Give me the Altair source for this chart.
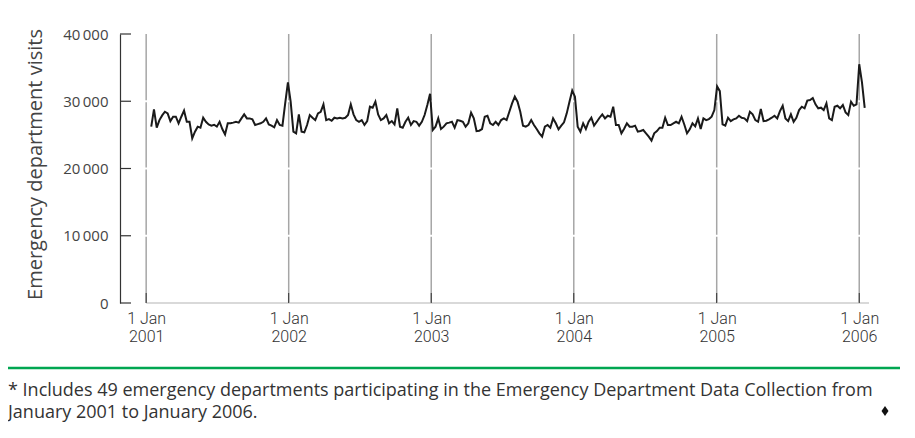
import altair as alt
import pandas as pd

# ---- data (weekly emergency department visits) ----
visits_2001 = [26220, 28800, 26070, 27200, 27900, 28440, 28200, 27050, 27700, 27700,
               26720, 27700, 28600, 26950, 26950, 24490, 25480, 26220, 26070, 27550,
               26950, 26550, 26370, 26500, 26220, 26950, 25870, 25080, 26720, 26720,
               26820, 26950, 26820, 27450, 28050, 27450, 27450, 27300, 26470, 26600,
               26720, 26950, 27450, 26550, 26370, 26120, 27200, 26470, 26370, 29690]
visits_2002 = [29940, 25480, 25230, 28050, 25480, 25380, 26470, 27950, 27550, 27200,
               28200, 28440, 29540, 27200, 27350, 27100, 27550, 27450, 27550, 27450,
               27550, 27950, 29540, 28050, 27200, 26950, 27200, 26470, 27050, 29190,
               29040, 29940, 28050, 27200, 27450, 27950, 26720, 27050, 26550, 28950,
               26220, 26070, 26950, 27550, 26470, 27050, 26950, 26370, 26950, 27950, 29440]
visits_2003 = [25720, 26220, 27450, 25870, 26220, 26720, 26820, 26950, 26070, 27200,
               27100, 26950, 26220, 26720, 28300, 27450, 25570, 25620, 25870, 27700,
               27850, 26720, 26470, 26950, 26470, 27200, 27450, 27200, 28440, 29690,
               30680, 29940, 28440, 26370, 26220, 26470, 27200, 26470, 25870, 25230,
               24730, 26220, 26470, 26070, 27450, 26720, 25820, 26370, 26870, 28200, 29940]
visits_2004 = [30680, 26220, 25480, 26720, 25870, 26950, 27550, 26370, 26950, 27550,
               28050, 27450, 27850, 27700, 29190, 26470, 26470, 25230, 25920, 26720,
               26220, 26220, 26370, 25480, 25570, 25720, 25230, 24730, 24140, 25230,
               25570, 26070, 26070, 27550, 26470, 26470, 26720, 26950, 26720, 27700,
               26550, 25230, 25820, 26720, 26270, 27450, 25870, 27450, 27200, 27350,
               27700, 28690]
visits_2005 = [31500, 26570, 26370, 27550, 27050, 27300, 27450, 27850, 27550, 27450,
               27050, 28440, 28050, 27200, 26950, 28870, 27050, 27100, 27300, 27550,
               27850, 27450, 28540, 29340, 27450, 27050, 28050, 26950, 27550, 28690,
               29190, 28950, 30090, 30190, 30480, 29540, 28950, 29040, 28690, 29690,
               27450, 27200, 29190, 29340, 28950, 29440, 28340, 27950, 29940, 29340, 29540]
new_year_peaks = [32800, 31100, 31600, 32200, 35500]
visits_2006 = [32800, 29000]

first_week = "2001-01-14"
years = [2001, 2002, 2003, 2004, 2005, 2006]
y_ticks = [0, 10000, 20000, 30000, 40000]
y_title = "Emergency department visits"
footnote_lines = [
    "* Includes 49 emergency departments participating in the Emergency Department Data Collection from",
    "January 2001 to January 2006.",
]

# ---- build table ----
values = (visits_2001 + [new_year_peaks[0]] + visits_2002 + [new_year_peaks[1]]
          + visits_2003 + [new_year_peaks[2]] + visits_2004 + [new_year_peaks[3]]
          + visits_2005 + [new_year_peaks[4]] + visits_2006)
dates = pd.date_range(first_week, periods=len(values), freq="7D")
df = pd.DataFrame({"week": dates.strftime("%Y-%m-%d"), "visits": values})
years_df = pd.DataFrame({"d": [f"{y}-01-01" for y in years]})
grid_y_df = pd.DataFrame({"v": y_ticks[1:4]})
ticks_y_df = pd.DataFrame({"v": y_ticks})
base_df = pd.DataFrame({"start": ["2001-01-01"], "end": ["2006-01-26"]})

W, H = 749, 269
XFONT = "Roboto, Liberation Sans, sans-serif"
SANS = "Open Sans, Lato, sans-serif"

xscale = alt.Scale(type="utc", domain=[alt.DateTime(year=2000, month=10, date=26, utc=True),
                                       alt.DateTime(year=2006, month=1, date=26, utc=True)])
yscale = alt.Scale(domain=[0, 40000], nice=False)

x_axis = alt.Axis(
    values=[alt.DateTime(year=y, month=1, date=1, utc=True) for y in years],
    labelExpr="['1 Jan', utcFormat(datum.value, '%Y')]",
    domain=False, ticks=False, tickSize=0, grid=False, title=None,
    labelFlush=False, labelOverlap=False, labelBound=False,
    labelPadding=7, labelFont=XFONT, labelFontSize=16, labelFontWeight=300,
    labelLineHeight=18, labelColor="#333333", labelAlign="center")
y_axis = alt.Axis(
    values=y_ticks,
    labelExpr="replace(format(datum.value, ','), ',', '\u2009')",
    domain=True, domainColor="#333333", domainWidth=1.2,
    ticks=False, tickSize=0, grid=False,
    labelPadding=12, labelFont=SANS, labelFontSize=15, labelColor="#444444",
    title=y_title, titleFont=SANS, titleFontSize=20, titleFontWeight="normal",
    titleColor="#444444", titleX=-85, titleY=130, titleAngle=270,
    titleAlign="center", titleBaseline="middle")

grid_v = alt.Chart(years_df).mark_rule(color="#a6a6a6", strokeWidth=1.5).encode(
    x=alt.X("d:T", scale=xscale, axis=x_axis))

grid_white = alt.Chart(grid_y_df).mark_rule(color="white", strokeWidth=2).encode(
    y=alt.Y("v:Q", scale=yscale, axis=y_axis), x=alt.value(14), x2=alt.value(W))

baseline = alt.Chart(base_df).mark_rule(color="#cccccc", strokeWidth=1.5).encode(
    x=alt.X("start:T", scale=xscale, axis=x_axis), x2="end:T", y=alt.value(H))

year_ticks = alt.Chart(years_df).mark_rule(color="#333333", strokeWidth=1).encode(
    x=alt.X("d:T", scale=xscale, axis=x_axis), y=alt.value(H - 10), y2=alt.value(H))

bracket = alt.Chart(ticks_y_df).mark_rule(color="#333333", strokeWidth=1.2).encode(
    y=alt.Y("v:Q", scale=yscale, axis=y_axis), x=alt.value(0), x2=alt.value(11))

line = alt.Chart(df).mark_line(color="#1a1a1a", strokeWidth=2).encode(
    x=alt.X("week:T", scale=xscale, axis=x_axis),
    y=alt.Y("visits:Q", scale=yscale, axis=y_axis),
)

rule_green = alt.Chart(base_df).mark_rule(color="#00a651", strokeWidth=2.5).encode(
    x=alt.value(-112), x2=alt.value(780), y=alt.value(334))

foot1 = alt.Chart(alt.Data(values=[{"t": footnote_lines[0]}])).mark_text(
    align="left", baseline="alphabetic", font=SANS, fontSize=18, color="#333333").encode(
    text="t:N", x=alt.value(-112), y=alt.value(362))
foot2 = alt.Chart(alt.Data(values=[{"t": footnote_lines[1]}])).mark_text(
    align="left", baseline="alphabetic", font=SANS, fontSize=18, color="#333333").encode(
    text="t:N", x=alt.value(-112), y=alt.value(384))
diamond = alt.Chart(base_df).mark_point(
    shape="M0,-1L0.7,0L0,1L-0.7,0Z", filled=True, color="#111111", size=100, opacity=1).encode(
    x=alt.value(765), y=alt.value(377))

chart = alt.layer(grid_v, grid_white, baseline, year_ticks, bracket, line,
                  rule_green, foot1, foot2, diamond).properties(
    width=W, height=H,
    padding={"left": 112, "top": 26, "right": 34, "bottom": 124},
    autosize=alt.AutoSizeParams(type="none"),
).configure_view(stroke=None)

chart.save("out.html", embed_options={"renderer": "svg", "actions": False})
